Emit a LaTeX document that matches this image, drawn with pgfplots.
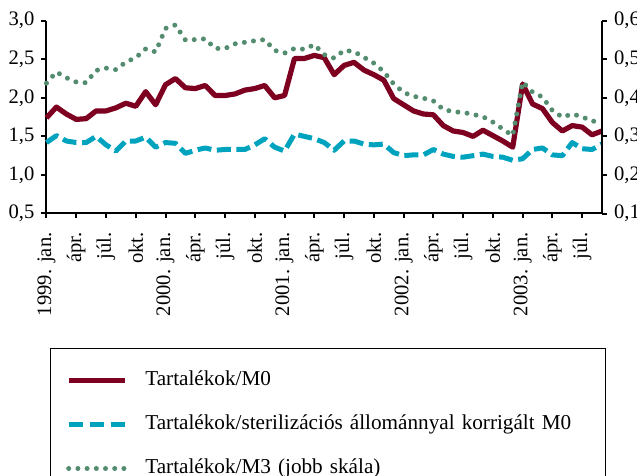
\documentclass[border=0pt]{standalone}
\usepackage{fontspec}
\setmainfont{Liberation Serif}
\usepackage{pgfplots}
\pgfplotsset{compat=1.18}
\usepackage{pgfplotstable}
\definecolor{mzero}{RGB}{125,0,32}
\definecolor{mster}{RGB}{0,163,190}
\definecolor{mthree}{RGB}{84,140,112}

\pgfplotstableread{
m v
0 1.74
1 1.88
2 1.79
3 1.72
4 1.73
5 1.83
6 1.83
7 1.87
8 1.93
9 1.89
10 2.08
11 1.91
12 2.17
13 2.25
14 2.13
15 2.12
16 2.16
17 2.03
18 2.03
19 2.05
20 2.10
21 2.12
22 2.16
23 2.00
24 2.03
25 2.51
26 2.51
27 2.55
28 2.52
29 2.30
30 2.42
31 2.46
32 2.36
33 2.30
34 2.23
35 1.99
36 1.91
37 1.83
38 1.79
39 1.78
40 1.64
41 1.57
42 1.55
43 1.50
44 1.58
45 1.51
46 1.44
47 1.36
48 2.18
49 1.92
50 1.86
51 1.68
52 1.57
53 1.64
54 1.62
55 1.52
56 1.57
}\tabzero

\pgfplotstableread{
m v
0 1.42
1 1.51
2 1.44
3 1.42
4 1.42
5 1.50
6 1.39
7 1.31
8 1.44
9 1.44
10 1.49
11 1.36
12 1.42
13 1.41
14 1.28
15 1.32
16 1.35
17 1.32
18 1.33
19 1.33
20 1.33
21 1.39
22 1.47
23 1.36
24 1.31
25 1.53
26 1.50
27 1.47
28 1.42
29 1.32
30 1.44
31 1.44
32 1.40
33 1.39
34 1.40
35 1.29
36 1.25
37 1.26
38 1.26
39 1.33
40 1.27
41 1.24
42 1.23
43 1.25
44 1.27
45 1.24
46 1.23
47 1.19
48 1.21
49 1.33
50 1.35
51 1.26
52 1.25
53 1.42
54 1.34
55 1.33
56 1.40
}\tabster

\pgfplotstableread{
m v
0 0.438
1 0.467
2 0.452
3 0.441
4 0.439
5 0.471
6 0.477
7 0.473
8 0.493
9 0.504
10 0.527
11 0.519
12 0.580
13 0.589
14 0.550
15 0.551
16 0.553
17 0.528
18 0.528
19 0.540
20 0.544
21 0.548
22 0.551
23 0.523
24 0.516
25 0.528
26 0.526
27 0.538
28 0.512
29 0.503
30 0.523
31 0.520
32 0.505
33 0.490
34 0.468
35 0.436
36 0.414
37 0.404
38 0.399
39 0.392
40 0.370
41 0.364
42 0.362
43 0.357
44 0.351
45 0.337
46 0.319
47 0.302
48 0.441
49 0.415
50 0.402
51 0.367
52 0.350
53 0.358
54 0.351
55 0.339
56 0.341
}\tabthree

\pgfplotsset{
  common/.style={
    scale only axis,
    width=277.75pt, height=96.4pt,
    xmin=0, xmax=56,
    axis line style={line width=1pt, black},
    tick style={line width=1pt, black},
    tick align=outside,
    major tick length=2.5pt,
    tick label style={font=\fontsize{10.3}{12}\selectfont},
    /pgf/number format/use comma,
    /pgf/number format/fixed,
    /pgf/number format/fixed zerofill,
    /pgf/number format/precision=1,
    /pgf/number format/assume math mode=true,
    clip=false,
  },
}

\begin{document}
\begin{tikzpicture}
\path[use as bounding box] (-23.25pt,-131.25pt) rectangle (295.25pt,106.75pt);
\clip (-23.25pt,-131.25pt) rectangle (295.25pt,106.75pt);
\begin{axis}[common,
  axis y line*=left, axis x line*=bottom,
  ymin=0.5, ymax=3.0, ytick={0.5,1.0,...,3.0},
  xtick={0,3,...,54},
  xticklabels={1999. jan., ápr., júl., okt., 2000. jan., ápr., júl., okt., 2001. jan., ápr., júl., okt., 2002. jan., ápr., júl., okt., 2003. jan., ápr., júl.},
  xticklabel style={rotate=90, anchor=east, inner xsep=6.8pt},
]
\addplot[mster, line width=2.5pt, dash pattern=on 7pt off 2.8pt, line join=round] table[x=m,y=v] {\tabster};
\addplot[mzero, line width=2.6pt, line join=round] table[x=m,y=v] {\tabzero};
\end{axis}
\begin{axis}[common,
  axis y line*=right, axis x line=none,
  ymin=0.1, ymax=0.6, ytick={0.1,0.2,...,0.6},
  legend cell align=left,
  legend image code/.code={\draw[#1] (0pt,0pt) -- (28pt,0pt);},
  legend style={at={(0.0056,-0.6976)}, anchor=north west,
    draw=black, line width=0.5pt,
    inner xsep=8pt, inner ysep=9.5pt,
    /tikz/row sep=9pt, /tikz/column sep=7pt,
    font=\fontsize{10.6}{12}\selectfont,
    nodes={inner sep=2pt, text height=7pt, text depth=2pt},
    /tikz/every even column/.append style={text width=220pt}},
]
\addlegendimage{mzero, line width=2.6pt}
\addlegendentry{Tartalékok/M0}
\addlegendimage{mster, line width=2.5pt, dash pattern=on 7pt off 3.5pt}
\addlegendentry{Tartalékok/sterilizációs állománnyal korrigált M0}
\addplot[mthree, line width=2.5pt, line cap=round, dash pattern=on 0pt off 4.6pt] table[x=m,y=v] {\tabthree};
\addlegendentry{Tartalékok/M3 (jobb skála)}
\end{axis}
\end{tikzpicture}
\end{document}
